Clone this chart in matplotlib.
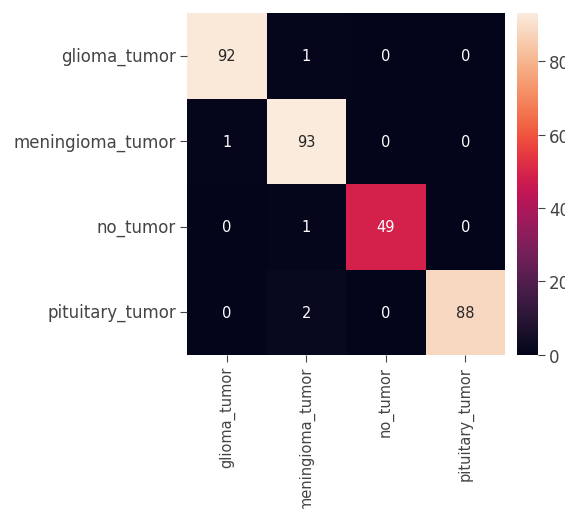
import matplotlib
matplotlib.use("Agg")
import matplotlib.pyplot as plt
import seaborn as sns
import numpy as np

labels = ["glioma_tumor", "meningioma_tumor", "no_tumor", "pituitary_tumor"]
row_glioma = [92, 1, 0, 0]
row_meningioma = [1, 93, 0, 0]
row_no = [0, 1, 49, 0]
row_pituitary = [0, 2, 0, 88]
cbar_ticks = [0, 20, 40, 60, 80]

cm = np.array([row_glioma, row_meningioma, row_no, row_pituitary])

fig = plt.figure(figsize=(5.65, 5.10), dpi=100)
ax = fig.add_axes([0.331, 0.302, 0.563, 0.670])
cax = fig.add_axes([0.915, 0.302, 0.037, 0.670])

sns.heatmap(cm, annot=True, fmt="d", cmap="rocket", ax=ax, cbar_ax=cax,
            xticklabels=labels, yticklabels=labels,
            annot_kws={"fontsize": 10.5})
ax.tick_params(axis="y", labelsize=12, colors="#444444", labelcolor="#444444",
               length=5, pad=3)
ax.tick_params(axis="x", labelsize=10.5, colors="#444444", labelcolor="#444444",
               length=5, pad=3)
plt.setp(ax.get_xticklabels(), rotation=90)
plt.setp(ax.get_yticklabels(), rotation=0)
cax.set_yticks(cbar_ticks)
cax.tick_params(labelsize=12, colors="#444444", labelcolor="#444444", length=5, pad=3)
for s in cax.spines.values():
    s.set_visible(False)

fig.savefig("out.png", dpi=100)
